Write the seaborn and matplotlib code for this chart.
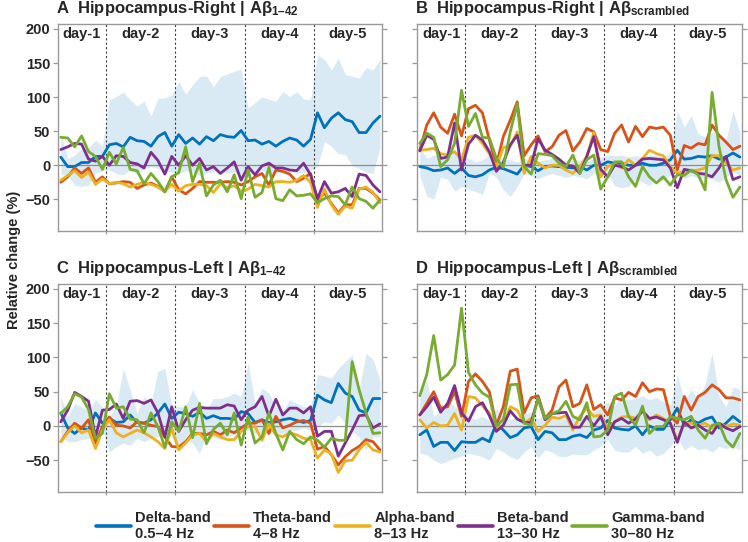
import numpy as np
import pandas as pd
import seaborn as sns
import matplotlib
matplotlib.use("Agg")
import matplotlib.pyplot as plt
from matplotlib.lines import Line2D

# ---------------- data ----------------
bands = ["Delta-band\n0.5\u20134 Hz", "Theta-band\n4\u20138 Hz", "Alpha-band\n8\u201313 Hz",
         "Beta-band\n13\u201330 Hz", "Gamma-band\n30\u201380 Hz"]
colors = ["#0072BD", "#D95319", "#EDB120", "#7E2F8E", "#77AC30"]
days = ["day-1", "day-2", "day-3", "day-4", "day-5"]
day_bounds = [6.5, 16.5, 26.5, 36.5]
yticks = [-50, 0, 50, 100, 150, 200]

# Panel A: Hippocampus-Right | Abeta 1-42
A_delta = [12, -2, -2, 4, 4, 13, 13,
           30, 32, 27, 41, 36, 35, 28, 42, 48, 28,
           45, 32, 40, 31, 42, 36, 45, 42, 41, 51,
           36, 37, 31, 35, 28, 35, 40, 37, 28, 38,
           77, 55, 69, 77, 67, 64, 48, 48, 62, 72]
A_delta_hi = [45, 10, 15, 25, 25, 37, 28,
              96, 101, 107, 96, 87, 94, 72, 98, 99, 103,
              123, 104, 118, 130, 131, 115, 130, 134, 138, 141,
              84, 92, 100, 97, 94, 108, 101, 108, 97, 96,
              162, 155, 140, 157, 133, 131, 128, 143, 140, 155]
A_delta_lo = [-14, -14, -29, -31, -29, -12, -8,
              -7, -12, -14, -7, -14, -5, -2, -5, -8, -10,
              -12, -8, -10, -15, -12, -10, -8, -12, -10, -15,
              -10, -12, -8, -10, -12, -10, -8, -12, -10, -8,
              -2, 35, 28, 17, 16, 0, -5, -10, -12, 25]
A_theta = [-25, -17, -4, -12, -4, -25, -17,
           -27, -26, -24, -25, -34, -29, -26, -31, -39, -17,
           -36, -42, -34, -24, -25, -25, -25, -24, -25, -29,
           -24, -17, -12, -29, -7, -9, -13, -24, -19, -12,
           -51, -41, -56, -70, -58, -58, -34, -34, -41, -51]
A_alpha = [-22, -15, -8, -18, -10, -28, -20,
           -27, -25, -27, -32, -28, -25, -28, -32, -38, -28,
           -38, -30, -28, -28, -30, -40, -27, -33, -30, -38,
           -35, -28, -30, -32, -24, -24, -25, -22, -15, -25,
           -62, -35, -58, -72, -60, -63, -35, -32, -40, -55]
A_beta = [23, 27, 32, 31, 9, 6, 13,
          0, 14, 13, 4, 2, -4, 19, 7, -13, 13,
          0, 14, 0, 10, -7, -2, -12, -4, 5, -22,
          -2, -14, -1, 3, -4, -4, -7, -8, 3, -14,
          -49, -24, -41, -39, -34, -46, -13, -15, -29, -39]
A_gamma = [41, 40, 27, 43, 20, 13, -6,
           19, 2, 26, -6, -8, -27, -12, -24, -39, -17,
           -11, 27, -24, 3, -45, -29, -22, -39, -14, -49,
           -7, -47, -40, -3, -49, -52, -36, -45, -44, -42,
           -55, -49, -45, -46, -58, -32, -49, -53, -63, -51]

# Panel B: Hippocampus-Right | Abeta scrambled
B_delta = [-2, -4, -8, -7, -4, -12, -4,
           -15, -17, -14, -7, -3, -5, -9, -13, 0, -2,
           -8, -2, -1, -2, -3, -4, -2, -7, 0, 0,
           5, 3, 3, 0, 0, 3, 0, 0, 3, 8,
           22, 9, 10, 13, 12, 14, 9, 12, 18, 12]
B_delta_hi = [27, 10, 15, 14, 10, 20, 18,
              10, 5, 8, 15, 12, 10, 8, 5, 10, 8,
              5, 8, 10, 8, 6, 8, 8, 5, 10, 12,
              15, 14, 15, 12, 14, 12, 15, 14, 12, 20,
              80, 56, 73, 46, 41, 49, 46, 37, 80, 47]
B_delta_lo = [-15, -45, -50, -17, -21, -38, -31,
              -36, -38, -43, -12, -17, -36, -46, -31, -12, -15,
              -20, -15, -12, -15, -18, -15, -17, -20, -12, -15,
              -12, -30, -33, -31, -20, -25, -30, -20, -22, -15,
              -5, -20, -15, -20, -18, -20, -25, -18, -10, -15]
B_theta = [22, 59, 77, 56, 47, 75, 43,
           83, 88, 77, 37, 0, 42, 66, 93, 14, 30,
           43, 20, 27, 44, 51, 21, 34, 54, 49, 23,
           20, 47, 59, 34, 57, 42, 56, 54, 56, 44,
           -7, 29, 25, 32, 30, 59, 44, 34, 23, 28]
B_alpha = [22, 23, 25, 17, 15, 20, 8,
           41, 44, 32, 17, -2, 26, 28, 49, -12, 13,
           3, -4, 0, 0, -7, -12, -2, 13, 48, -17,
           -2, 2, -4, 8, 0, 10, 22, 17, 14, -2,
           -12, -9, -8, -7, -4, 14, 14, 3, -7, -4]
B_beta = [21, 44, 38, 10, 12, 62, -7,
          31, 44, 37, 20, -9, 4, 30, 44, 0, 0,
          39, 22, 16, 9, 0, -1, -12, 13, 42, -6,
          -17, 0, -2, -7, 0, 9, 10, 9, 8, -4,
          -33, -6, -8, -12, -13, -17, -4, 13, -21, -17]
B_gamma = [32, 47, 41, -2, 8, 32, 110,
           57, 76, 41, 40, 10, -3, 49, 90, -2, -13,
           17, 16, 14, 3, -2, 15, -12, 8, 15, -35,
           -17, 5, 5, -17, -31, -2, -17, -26, -17, -29,
           -14, -15, -7, -14, -36, 107, 27, -21, -47, -32]

# Panel C: Hippocampus-Left | Abeta 1-42
C_delta = [19, -3, -11, -3, -6, 19, 4,
           11, 5, 6, 16, 5, 4, 9, 19, 32, 11,
           20, 18, 14, 20, 11, 15, 11, 11, 10, 21,
           18, 5, 9, 5, 6, 9, 11, 8, 5, 8,
           45, 38, 34, 62, 48, 43, 23, 19, 40, 40]
C_delta_hi = [43, 14, 33, 28, 23, 38, 28,
              14, 28, 84, 53, 19, 43, 33, 80, 84, 28,
              28, 28, 53, 33, 23, 40, 40, 43, 48, 43,
              92, 33, 55, 48, 28, 23, 38, 33, 28, 28,
              75, 73, 70, 84, 94, 104, 53, 106, 97, 67]
C_delta_lo = [-16, -23, -23, -20, -18, -16, -6,
              -38, -30, -25, -28, -18, -23, -18, -16, -13, -16,
              -35, -18, -25, -40, -13, -16, -20, -16, -13, -6,
              -6, -11, -11, -8, -11, -11, -8, -6, -3, -6,
              -1, 6, 4, 16, 4, -8, -16, -35, -16, -16]
C_theta = [-23, -8, 4, -3, 9, -25, -1,
           13, 1, 0, -3, 6, 4, 1, -1, -16, -30,
           -31, -23, -11, -11, -13, -8, -13, -6, -10, -3,
           4, 4, 9, -11, 14, -3, 1, 6, 8, 4,
           -34, -30, -42, -57, -45, -36, -30, -20, -23, -35]
C_alpha = [-23, -10, 0, -10, -6, -33, -6,
           9, -10, -16, -11, -6, -10, -16, -23, -33, -3,
           -35, -25, -13, -11, -23, -11, -16, -20, -20, -8,
           -1, -1, -21, 3, -13, -16, -10, -13, -18, -20,
           -47, -35, -41, -68, -51, -50, -35, -24, -35, -38]
C_beta = [6, 23, 49, 43, 36, -16, 23,
          24, 32, 11, 36, 37, 33, 38, 19, -16, 28,
          -8, 9, 23, 27, 26, 26, 26, 31, 29, 9,
          23, 28, 43, 14, 39, 16, 26, 26, 19, 28,
          -15, -8, -8, -44, -25, -6, 15, 16, -3, 3]
C_gamma = [18, 28, 47, 42, 24, -18, -11,
           47, 26, 28, 10, 9, -10, 19, -1, -31, 6,
           -8, 28, -17, 33, -26, -5, 4, -13, 19, -28,
           13, -25, -16, 19, -11, -35, -8, -20, -26, -16,
           -21, -31, -18, -21, -21, 94, 53, 19, -11, -10]

# Panel D: Hippocampus-Left | Abeta scrambled
D_delta = [-13, -6, -30, -24, -24, -36, -23,
           -24, -24, -18, -23, 4, -6, -17, -13, -3, -1,
           -20, -8, -10, -20, -20, -15, -13, -17, -6, -3,
           8, -3, -5, -6, 0, -13, 0, -5, -5, 9,
           26, 1, 9, 4, 10, 13, -3, 4, 14, 6]
D_delta_hi = [43, 67, 14, 23, 38, 28, 23,
              14, 10, 14, 8, 25, 15, 10, 12, 18, 20,
              10, 18, 15, 12, 10, 14, 16, 12, 20, 28,
              35, 30, 42, 38, 40, 44, 38, 42, 35, 30,
              75, 38, 53, 38, 62, 106, 43, 28, 57, 53]
D_delta_lo = [-40, -42, -50, -55, -51, -47, -44,
              -40, -42, -45, -50, -33, -38, -45, -49, -38, -30,
              -47, -35, -38, -44, -45, -41, -42, -42, -35, -30,
              -20, -35, -38, -38, -30, -40, -35, -44, -40, -30,
              -16, -35, -28, -35, -33, -38, -30, -33, -30, -35]
D_theta = [16, 33, 50, 26, 28, 50, 14,
           65, 76, 65, 50, 1, 28, 80, 83, 19, 41,
           44, 11, 23, 57, 67, 28, 33, 60, 24, 31,
           16, 41, 38, 49, 43, 63, 50, 54, 53, 14,
           4, 43, 23, 43, 49, 60, 53, 41, 41, 38]
D_alpha = [9, -3, 5, 0, 1, 18, -6,
           43, 41, 29, 19, -3, 1, 28, 23, 4, 11,
           -8, 1, 13, 11, 15, -6, 14, 26, 14, 16,
           -5, 6, 13, 14, 11, 21, 9, 16, 11, 4,
           -21, 4, 4, 1, 4, -3, 4, -1, 3, 1]
D_beta = [16, 28, 42, 20, 33, 59, 19,
          7, 28, 34, 15, -8, 1, 22, 10, 5, 5,
          41, 9, 18, 19, 20, -2, -2, 14, 0, 14,
          -13, 6, 11, 4, 10, 22, 11, 13, 9, 4,
          -24, 6, -3, 1, -6, -11, 4, -3, -7, -1]
D_gamma = [44, 75, 132, 67, 75, 89, 172,
           78, 60, 48, 42, 0, 9, 60, 61, 4, 1,
           41, 11, 18, 22, 36, 14, 9, 34, -16, -15,
           -6, 43, 48, 14, 1, 29, -11, -1, -1, 14,
           11, 9, 14, -6, -18, 1, 4, -21, -31, -11]

panels = [
    ("A", "Hippocampus-Right | A\u03b2$_{\\mathbf{1\u201342}}$",
     [A_delta, A_theta, A_alpha, A_beta, A_gamma], A_delta_lo, A_delta_hi),
    ("B", "Hippocampus-Right | A\u03b2$_{\\mathbf{scrambled}}$",
     [B_delta, B_theta, B_alpha, B_beta, B_gamma], B_delta_lo, B_delta_hi),
    ("C", "Hippocampus-Left | A\u03b2$_{\\mathbf{1\u201342}}$",
     [C_delta, C_theta, C_alpha, C_beta, C_gamma], C_delta_lo, C_delta_hi),
    ("D", "Hippocampus-Left | A\u03b2$_{\\mathbf{scrambled}}$",
     [D_delta, D_theta, D_alpha, D_beta, D_gamma], D_delta_lo, D_delta_hi),
]

# ---------------- style ----------------
sns.set_style("ticks")
plt.rcParams["font.family"] = ["Liberation Sans", "DejaVu Sans"]
plt.rcParams["font.weight"] = "bold"
plt.rcParams["mathtext.fontset"] = "custom"
plt.rcParams["mathtext.rm"] = "Liberation Sans:bold"
plt.rcParams["mathtext.bf"] = "Liberation Sans:bold"
plt.rcParams["mathtext.it"] = "Liberation Sans:bold"

frame_col = "#999999"
shade_col = "#d9eaf5"

fig = plt.figure(figsize=(7.48, 5.42), dpi=100)
W, H = 748.0, 542.0
boxes = [(58, 24, 382, 231), (417, 24, 742, 231),
         (58, 284, 382, 492), (417, 284, 742, 492)]

xlim = (-0.4, 46.3)
ylim = (-96.5, 207.3)

for k, ((letter, title, series, lo, hi), (x0, y0, x1, y1)) in enumerate(zip(panels, boxes)):
    ax = fig.add_axes([x0 / W, 1 - y1 / H, (x1 - x0) / W, (y1 - y0) / H])
    n = len(series[0])
    idx = np.arange(n)
    ax.fill_between(idx, lo, hi, color=shade_col, lw=0, zorder=1)
    ax.axhline(0, color="#8c8c8c", lw=0.9, zorder=1.5)
    for b in day_bounds:
        ax.axvline(b, color="#404040", lw=0.8, ls=(0, (2, 2)), zorder=1.6)
    df = pd.DataFrame({
        "idx": np.tile(idx, len(bands)),
        "value": np.concatenate([np.asarray(s, float) for s in series]),
        "band": np.repeat(bands, n),
    })
    sns.lineplot(data=df, x="idx", y="value", hue="band", hue_order=bands,
                 palette=colors, linewidth=2.0, ax=ax, legend=False,
                 errorbar=None, zorder=3)
    ax.set_xlim(*xlim)
    ax.set_ylim(*ylim)
    ax.set_xlabel("")
    ax.set_ylabel("")
    ax.set_yticks(yticks)
    ax.set_xticks(day_bounds)
    ax.set_xticklabels([])
    if k % 2 == 0:
        ax.set_yticklabels([str(t).replace("-", "\u2212") for t in yticks],
                           fontsize=10.5, fontweight="bold")
    else:
        ax.set_yticklabels([])
    ax.tick_params(axis="y", which="both", left=True, right=True, direction="out",
                   length=3.5, width=0.9, color=frame_col, pad=2)
    ax.tick_params(axis="x", which="both", bottom=True, direction="out",
                   length=2.5, width=0.9, color=frame_col)
    for sp in ax.spines.values():
        sp.set_visible(True)
        sp.set_color(frame_col)
        sp.set_linewidth(1.0)
    # day labels
    segs = [xlim[0]] + day_bounds + [xlim[1]]
    for d, lab in enumerate(days):
        ax.text((segs[d] + segs[d + 1]) / 2, 0.95, lab, transform=ax.get_xaxis_transform(),
                ha="center", va="center", fontsize=10.5, fontweight="bold")
    # title
    ax.text(-0.006, 1.052, letter + "  " + title, transform=ax.transAxes,
            ha="left", va="baseline", fontsize=12, fontweight="bold")

fig.text(0.019, 0.52, "Relative change (%)", rotation=90, ha="center", va="center",
         fontsize=10.5, fontweight="bold")

handles = [Line2D([0], [0], color=c, lw=2.6) for c in colors]
fig.legend(handles, bands, loc="center", bbox_to_anchor=(0.535, 0.03), ncol=5,
           frameon=False, handlelength=2.4, handletextpad=0.3, columnspacing=0.2,
           prop={"weight": "bold", "size": 10.5}, labelspacing=0.2)

fig.savefig("out.png", dpi=100)
